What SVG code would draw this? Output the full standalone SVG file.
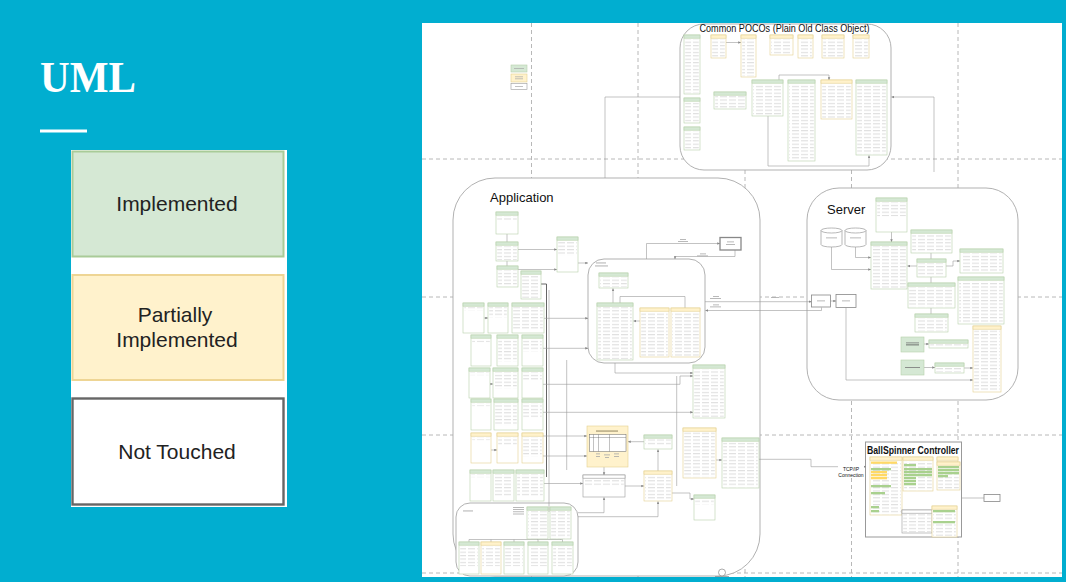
<svg xmlns="http://www.w3.org/2000/svg" width="1066" height="582" viewBox="0 0 1066 582">
<style>
.ct{fill:#fff;stroke:#a8a8a8;stroke-width:.9}
.bx{fill:#fff;stroke-width:.6}
.hd{stroke-width:.6}
.G .bx,.G .hd{stroke:#b7d1aa}.G .hd{fill:#d5e8d4}
.Y .bx,.Y .hd{stroke:#e4d08f}.Y .hd{fill:#fff2cc}
.W .bx,.W .hd{stroke:#9a9a9a}.W .hd{fill:#fff}
.tx{fill:url(#rows)}
.c{fill:none;stroke:#9a9a9a;stroke-width:.6}
.ca{marker-end:url(#ar)}
.dk{fill:none;stroke:#555;stroke-width:.9}
.gd{fill:none;stroke:#b8b8b8;stroke-width:1;stroke-dasharray:4 3}
.bar{fill:#a8a8a8}
.hg{fill:#a9d18e}.hy{fill:#ffd966}
.t{font-family:"Liberation Sans",Arial,Helvetica,sans-serif;fill:#111}
.lg{font-family:"Liberation Sans",Arial,Helvetica,sans-serif;font-size:21px;fill:#222;text-anchor:middle}
</style>
<defs>
<pattern id="rows" width="9" height="3.4" patternUnits="userSpaceOnUse"><rect y="1.1" width="7" height="0.8" fill="#d4d4d4"/></pattern>
<marker id="ar" viewBox="0 0 6 6" refX="5.5" refY="3" markerWidth="3" markerHeight="3" markerUnits="userSpaceOnUse" orient="auto"><path d="M0,0.5 L6,3 L0,5.5 z" fill="#888"/></marker>
</defs>

<rect x="0" y="0" width="1066" height="582" fill="#01aed0"/>
<g id="title"><text x="40" y="92" font-family="'Liberation Serif','Times New Roman',serif" font-weight="bold" font-size="45" fill="#fff" textLength="96" lengthAdjust="spacingAndGlyphs">UML</text>
<rect x="40" y="129.5" width="47" height="3" fill="#fff"/></g>

<g id="legend">
<rect x="71" y="150" width="216" height="357" fill="#fff"/>
<g id="leg-impl"><rect x="72.5" y="151.5" width="211" height="105" fill="#d5e8d4" stroke="#a9cb98" stroke-width="2"/><text class="lg" x="177" y="211">Implemented</text></g>
<g id="leg-part"><rect x="72.5" y="275" width="211" height="105" fill="#fff2cc" stroke="#eed594" stroke-width="2"/><text class="lg" x="175" y="322">Partially</text><text class="lg" x="177" y="347">Implemented</text></g>
<g id="leg-none"><rect x="72.5" y="398.5" width="211" height="106" fill="#fff" stroke="#666" stroke-width="2.4"/><text class="lg" x="177" y="459">Not Touched</text></g>
</g>

<rect id="panel" x="422" y="23" width="640" height="554" fill="#fff"/>
<g id="grid">
<path class="gd" d="M422,159H1062M422,297H1062M422,435H1062M422,573H1062M531.5,23V577M638,23V577M745,23V577M851.5,23V577M958,23V577"/>
</g>

<g id="containers">
<rect id="poco" class="ct" x="680" y="24" width="211" height="146" rx="24"/>
<rect id="application" class="ct" x="453" y="178" width="307" height="398" rx="42"/>
<rect id="server" class="ct" x="807" y="188" width="211" height="212" rx="32"/>
<rect id="clientdb" class="ct" x="588" y="259" width="117" height="104" rx="16"/>
<rect id="helpers" class="ct" x="456" y="503" width="122" height="73" rx="14"/>
<rect id="ballspinner" x="865.5" y="442" width="96" height="95" fill="#fff" stroke="#999" stroke-width="1"/>
<text class="t" x="699.5" y="32" font-size="11.5" textLength="170" lengthAdjust="spacingAndGlyphs">Common POCOs (Plain Old Class Object)</text>
<text class="t" x="490" y="201.5" font-size="13">Application</text>
<text class="t" x="827" y="213.5" font-size="13">Server</text>
<text class="t" x="867" y="454" font-size="11.5" font-weight="bold" textLength="92" lengthAdjust="spacingAndGlyphs">BallSpinner Controller</text>
</g>

<g id="connectors">
<path class="c ca" d="M726,42.5H741"/>
<path class="c ca" d="M779,80V75H829V80"/>
<path class="c ca" d="M768,116V166H869V155.5"/>
<path class="c" d="M605,178V97H680"/>
<path class="c ca" d="M934,172V97H891.5"/>
<path class="c" d="M507,234V242M507,261V266"/>
<path class="c ca" d="M518,249.5H557"/>
<path class="c ca" d="M518,269.5H557"/>
<path class="c ca" d="M578,263H588"/>
<path class="c ca" d="M646.5,259V243.5H720"/>
<path class="c ca" d="M735,250V256.5H675V259"/>
<path class="c ca" d="M613,303V288.5"/>
<path class="c" d="M620,303V296.5H685V308"/>
<path class="c ca" d="M640,321H633.5"/>
<path class="c ca" d="M705,301.7H811.5"/>
<path class="c ca" d="M821.5,307.5V310.5H705.5"/>
<path class="dk" d="M541,284H546.5V477"/>
<path class="c" d="M549,290V512"/>
<path class="c ca" d="M484,318H488"/>
<path class="c ca" d="M491,384H493"/>
<path class="c ca" d="M491,450H497"/>
<path class="c ca" d="M544,318.3H588"/>
<path class="c ca" d="M543,348.3H588"/>
<path class="c ca" d="M543,384.3H680V376H693"/>
<path class="c ca" d="M543,412.3H693"/>
<path class="c ca" d="M543,436H587"/>
<path class="c ca" d="M543,456H587"/>
<path class="c ca" d="M544,483.5H583"/>
<path class="c" d="M566.7,360V470"/>
<path class="c ca" d="M615,363V373H693"/>
<path class="c" d="M676.7,376V486"/>
<path class="c ca" d="M604,467V475"/>
<path class="c ca" d="M644,441.7H628"/>
<path class="c ca" d="M658,471V449.5"/>
<path class="c ca" d="M716,460H722"/>
<path class="c ca" d="M625,486H644"/>
<path class="c ca" d="M672,493H690V499H694"/>
<path class="c ca" d="M578,512.7H604V497.5"/>
<path class="c ca" d="M578,516.7H658V501.5"/>
<path class="c" d="M469,542V539.5H562.5V542M491,539.5V542M514,539.5V542M538,539.5V542M537.5,539V539.5M560.5,539V539.5"/>
<path class="c ca" d="M759,459.3H811V466.7H866"/>
<path class="c ca" d="M891.5,232V242"/>
<path class="c ca" d="M831.5,247V269.5H871"/>
<path class="c ca" d="M855.5,247V257.5H871"/>
<path class="c ca" d="M917,266H907.5"/>
<path class="c" d="M931,253V259M931,277V283M931,308V314"/>
<path class="c ca" d="M946,266H953V261H960"/>
<path class="c ca" d="M924,344H929"/>
<path class="c ca" d="M924,367.5H935"/>
<path class="c ca" d="M964,368H973"/>
<path class="c ca" d="M846,307.5V380H973"/>
<path class="c ca" d="M830.5,301H836"/>
<path class="c" d="M961.5,498H984"/>
</g>

<g id="edge-labels">
<rect x="838" y="464" width="26" height="13" fill="#fff"/>
<text class="t" x="851" y="470.5" font-size="5" text-anchor="middle" fill="#333">TCP/IP</text>
<text class="t" x="851" y="476.5" font-size="5" text-anchor="middle" fill="#333">Connection</text>
<rect class="bar" x="680" y="239" width="6" height=".8"/><rect class="bar" x="678" y="241" width="10" height=".8"/>
<rect class="bar" x="700" y="253.5" width="6" height=".8"/><rect class="bar" x="697" y="255.5" width="11" height=".8"/>
<rect class="bar" x="713" y="296" width="6" height=".8"/><rect class="bar" x="710" y="298" width="11" height=".8"/>
<rect class="bar" x="713" y="304.5" width="6" height=".8"/><rect class="bar" x="710" y="306.5" width="11" height=".8"/>
<rect class="bar" x="771" y="297" width="8" height=".8"/>
<rect class="bar" x="596" y="262.5" width="10" height=".9"/><rect class="bar" x="595" y="265.5" width="13" height=".9"/>
</g>

<g id="legend-thumb">
<rect x="511" y="65" width="16" height="7" fill="#d5e8d4" stroke="#b7d1aa" stroke-width=".6"/>
<rect x="511" y="74" width="16" height="8" fill="#fff2cc" stroke="#e4d08f" stroke-width=".6"/>
<rect x="511" y="83.5" width="16" height="6" fill="#fff" stroke="#999" stroke-width=".6"/>
<rect class="bar" x="514" y="68" width="10" height=".7"/><rect class="bar" x="515" y="76.5" width="8" height=".7"/><rect class="bar" x="515" y="78.5" width="8" height=".7"/><rect class="bar" x="515" y="86.3" width="8" height=".7"/>
</g>

<g id="p1" class="G"><rect class="bx" x="684" y="35" width="16" height="59"/><rect class="hd" x="684" y="35" width="16" height="3.2"/><rect class="tx" x="685.2" y="39.2" width="13.6" height="54"/></g>
<g id="p2" class="Y"><rect class="bx" x="711" y="35" width="15" height="23"/><rect class="hd" x="711" y="35" width="15" height="3.2"/><rect class="tx" x="712.2" y="39.2" width="12.6" height="18"/></g>
<g id="p3" class="Y"><rect class="bx" x="741" y="35" width="15" height="42"/><rect class="hd" x="741" y="35" width="15" height="3.2"/><rect class="tx" x="742.2" y="39.2" width="12.6" height="37"/></g>
<g id="p4" class="Y"><rect class="bx" x="770" y="35" width="23" height="20"/><rect class="hd" x="770" y="35" width="23" height="3.2"/><rect class="tx" x="771.2" y="39.2" width="20.6" height="15"/></g>
<g id="p5" class="Y"><rect class="bx" x="798" y="35" width="15" height="23"/><rect class="hd" x="798" y="35" width="15" height="3.2"/><rect class="tx" x="799.2" y="39.2" width="12.6" height="18"/></g>
<g id="p6" class="Y"><rect class="bx" x="822" y="35" width="22" height="23"/><rect class="hd" x="822" y="35" width="22" height="3.2"/><rect class="tx" x="823.2" y="39.2" width="19.6" height="18"/></g>
<g id="p7" class="Y"><rect class="bx" x="853" y="35" width="16" height="23"/><rect class="hd" x="853" y="35" width="16" height="3.2"/><rect class="tx" x="854.2" y="39.2" width="13.6" height="18"/></g>
<g id="p8" class="G"><rect class="bx" x="684" y="98" width="16" height="25"/><rect class="hd" x="684" y="98" width="16" height="3.2"/><rect class="tx" x="685.2" y="102.2" width="13.6" height="20"/></g>
<g id="p9" class="G"><rect class="bx" x="684" y="127" width="16" height="23"/><rect class="hd" x="684" y="127" width="16" height="3.2"/><rect class="tx" x="685.2" y="131.2" width="13.6" height="18"/></g>
<g id="p10" class="G"><rect class="bx" x="714" y="92" width="32" height="17"/><rect class="hd" x="714" y="92" width="32" height="3.2"/><rect class="tx" x="715.2" y="96.2" width="29.6" height="12"/></g>
<g id="p11" class="G"><rect class="bx" x="752" y="80" width="31" height="36"/><rect class="hd" x="752" y="80" width="31" height="3.2"/><rect class="tx" x="753.2" y="84.2" width="28.6" height="31"/></g>
<g id="p12" class="G"><rect class="bx" x="788" y="80" width="27" height="81"/><rect class="hd" x="788" y="80" width="27" height="3.2"/><rect class="tx" x="789.2" y="84.2" width="24.6" height="76"/></g>
<g id="p13" class="Y"><rect class="bx" x="821" y="80" width="31" height="39"/><rect class="hd" x="821" y="80" width="31" height="3.2"/><rect class="tx" x="822.2" y="84.2" width="28.6" height="34"/></g>
<g id="p14" class="G"><rect class="bx" x="856" y="80" width="31" height="75"/><rect class="hd" x="856" y="80" width="31" height="3.2"/><rect class="tx" x="857.2" y="84.2" width="28.6" height="70"/></g>

<g id="a1" class="G"><rect class="bx" x="496" y="212" width="22" height="22"/><rect class="hd" x="496" y="212" width="22" height="3.2"/><rect class="tx" x="497.2" y="216.2" width="19.6" height="4"/></g>
<g id="a2" class="G"><rect class="bx" x="496" y="242" width="22" height="19"/><rect class="hd" x="496" y="242" width="22" height="3.2"/><rect class="tx" x="497.2" y="246.2" width="19.6" height="14"/></g>
<g id="a3" class="G"><rect class="bx" x="497" y="266" width="21" height="21"/><rect class="hd" x="497" y="266" width="21" height="3.2"/><rect class="tx" x="498.2" y="270.2" width="18.6" height="16"/></g>
<g id="a4" class="G"><rect class="bx" x="557" y="237" width="21" height="35"/><rect class="hd" x="557" y="237" width="21" height="3.2"/><rect class="tx" x="558.2" y="241.2" width="18.6" height="14"/></g>
<g id="a5" class="G"><rect class="bx" x="521" y="271" width="20" height="28"/><rect class="hd" x="521" y="271" width="20" height="3.2"/><rect class="tx" x="522.2" y="275.2" width="17.6" height="23"/></g>

<g id="r11" class="G"><rect class="bx" x="463" y="303" width="21" height="30"/><rect class="hd" x="463" y="303" width="21" height="3.2"/><rect class="tx" x="464.2" y="307.2" width="18.6" height="3"/></g>
<g id="r12" class="G"><rect class="bx" x="488" y="303" width="20" height="30"/><rect class="hd" x="488" y="303" width="20" height="3.2"/><rect class="tx" x="489.2" y="307.2" width="17.6" height="10"/></g>
<g id="r13" class="G"><rect class="bx" x="512" y="303" width="32" height="30"/><rect class="hd" x="512" y="303" width="32" height="3.2"/><rect class="tx" x="513.2" y="307.2" width="29.6" height="22"/></g>
<g id="r21" class="G"><rect class="bx" x="471" y="335" width="20" height="31"/><rect class="hd" x="471" y="335" width="20" height="3.2"/><rect class="tx" x="472.2" y="339.2" width="17.6" height="3"/></g>
<g id="r22" class="G"><rect class="bx" x="497" y="335" width="21" height="31"/><rect class="hd" x="497" y="335" width="21" height="3.2"/><rect class="tx" x="498.2" y="339.2" width="18.6" height="22"/></g>
<g id="r23" class="G"><rect class="bx" x="522" y="335" width="21" height="31"/><rect class="hd" x="522" y="335" width="21" height="3.2"/><rect class="tx" x="523.2" y="339.2" width="18.6" height="12"/></g>
<g id="r31" class="G"><rect class="bx" x="469" y="368" width="21" height="30"/><rect class="hd" x="469" y="368" width="21" height="3.2"/><rect class="tx" x="470.2" y="372.2" width="18.6" height="3"/></g>
<g id="r32" class="G"><rect class="bx" x="493" y="368" width="25" height="30"/><rect class="hd" x="493" y="368" width="25" height="3.2"/><rect class="tx" x="494.2" y="372.2" width="22.6" height="16"/></g>
<g id="r33" class="G"><rect class="bx" x="522" y="368" width="21" height="30"/><rect class="hd" x="522" y="368" width="21" height="3.2"/><rect class="tx" x="523.2" y="372.2" width="18.6" height="8"/></g>
<g id="r41" class="G"><rect class="bx" x="471" y="399" width="20" height="31"/><rect class="hd" x="471" y="399" width="20" height="3.2"/><rect class="tx" x="472.2" y="403.2" width="17.6" height="3"/></g>
<g id="r42" class="G"><rect class="bx" x="494" y="399" width="24" height="31"/><rect class="hd" x="494" y="399" width="24" height="3.2"/><rect class="tx" x="495.2" y="403.2" width="21.6" height="22"/></g>
<g id="r43" class="G"><rect class="bx" x="522" y="399" width="21" height="31"/><rect class="hd" x="522" y="399" width="21" height="3.2"/><rect class="tx" x="523.2" y="403.2" width="18.6" height="14"/></g>
<g id="r51" class="Y"><rect class="bx" x="471" y="433" width="20" height="30"/><rect class="hd" x="471" y="433" width="20" height="3.2"/><rect class="tx" x="472.2" y="437.2" width="17.6" height="3"/></g>
<g id="r52" class="Y"><rect class="bx" x="497" y="433" width="21" height="30"/><rect class="hd" x="497" y="433" width="21" height="3.2"/><rect class="tx" x="498.2" y="437.2" width="18.6" height="8"/></g>
<g id="r53" class="Y"><rect class="bx" x="522" y="433" width="21" height="30"/><rect class="hd" x="522" y="433" width="21" height="3.2"/><rect class="tx" x="523.2" y="437.2" width="18.6" height="19"/></g>
<g id="r61" class="G"><rect class="bx" x="470" y="470" width="21" height="31"/><rect class="hd" x="470" y="470" width="21" height="3.2"/><rect class="tx" x="471.2" y="474.2" width="18.6" height="3"/></g>
<g id="r62" class="G"><rect class="bx" x="493" y="470" width="21" height="31"/><rect class="hd" x="493" y="470" width="21" height="3.2"/><rect class="tx" x="494.2" y="474.2" width="18.6" height="22"/></g>
<g id="r63" class="G"><rect class="bx" x="516" y="470" width="28" height="31"/><rect class="hd" x="516" y="470" width="28" height="3.2"/><rect class="tx" x="517.2" y="474.2" width="25.6" height="22"/></g>

<g id="c1" class="G"><rect class="bx" x="599" y="273" width="29" height="15"/><rect class="hd" x="599" y="273" width="29" height="3.2"/><rect class="tx" x="600.2" y="277.2" width="26.6" height="10"/></g>
<g id="c2" class="G"><rect class="bx" x="597" y="303" width="36" height="57"/><rect class="hd" x="597" y="303" width="36" height="3.2"/><rect class="tx" x="598.2" y="307.2" width="33.6" height="52"/></g>
<g id="c3" class="Y"><rect class="bx" x="640" y="308" width="29" height="49"/><rect class="hd" x="640" y="308" width="29" height="3.2"/><rect class="tx" x="641.2" y="312.2" width="26.6" height="44"/></g>
<g id="c4" class="Y"><rect class="bx" x="671" y="308" width="29" height="49"/><rect class="hd" x="671" y="308" width="29" height="3.2"/><rect class="tx" x="672.2" y="312.2" width="26.6" height="44"/></g>
<g id="userout"><rect x="720" y="237.5" width="21" height="12.5" fill="#fff" stroke="#888" stroke-width="1.3"/><rect class="bar" x="727" y="241.5" width="7" height=".8"/><rect class="bar" x="726" y="244" width="9" height=".8"/></g>

<g id="m1" class="G"><rect class="bx" x="693" y="365" width="32" height="53"/><rect class="hd" x="693" y="365" width="32" height="3.2"/><rect class="tx" x="694.2" y="369.2" width="29.6" height="48"/></g>
<g id="logs"><rect x="587" y="426" width="41" height="41" fill="#fff2cc" stroke="#e4d08f" stroke-width=".6"/><rect x="596" y="430.5" width="22" height="1.1" fill="#9c8f6a"/><rect x="589.5" y="434.5" width="36.5" height="17" fill="#fff" stroke="#666" stroke-width=".5"/><path d="M589.5,437.5H626M593.5,434.5V451.5M598.5,434.5V451.5M609.5,434.5V451.5" fill="none" stroke="#666" stroke-width=".4"/><rect class="bar" x="596" y="453.5" width="4" height=".8"/><rect class="bar" x="596" y="456" width="4" height=".8"/><rect class="bar" x="604" y="454.5" width="6" height=".8"/><rect class="bar" x="605" y="457" width="4" height=".8"/><rect class="bar" x="614" y="453.5" width="5" height=".8"/><rect class="bar" x="614" y="456" width="5" height=".8"/></g>
<g id="m2" class="W"><rect class="bx" x="583" y="475" width="42" height="22"/><rect class="hd" x="583" y="475" width="42" height="3.2"/><rect class="tx" x="584.2" y="479.2" width="39.6" height="6"/></g>
<g id="m3" class="G"><rect class="bx" x="644" y="435" width="28" height="14"/><rect class="hd" x="644" y="435" width="28" height="3.2"/><rect class="tx" x="645.2" y="439.2" width="25.6" height="6"/></g>
<g id="m4" class="Y"><rect class="bx" x="644" y="471" width="28" height="30"/><rect class="hd" x="644" y="471" width="28" height="3.2"/><rect class="tx" x="645.2" y="475.2" width="25.6" height="25"/></g>
<g id="m5" class="Y"><rect class="bx" x="683" y="428" width="33" height="50"/><rect class="hd" x="683" y="428" width="33" height="3.2"/><rect class="tx" x="684.2" y="432.2" width="30.6" height="45"/></g>
<g id="m6" class="G"><rect class="bx" x="722" y="438" width="37" height="50"/><rect class="hd" x="722" y="438" width="37" height="3.2"/><rect class="tx" x="723.2" y="442.2" width="34.6" height="45"/></g>
<g id="m7" class="G"><rect class="bx" x="694" y="495" width="21" height="25"/><rect class="hd" x="694" y="495" width="21" height="3.2"/><rect class="tx" x="695.2" y="499.2" width="18.6" height="5"/></g>

<g id="helper-labels"><rect class="bar" x="463" y="510.5" width="10" height=".9"/><rect class="bar" x="513" y="507" width="11" height=".8"/><rect class="bar" x="513" y="509.2" width="11" height=".8"/><rect class="bar" x="513" y="511.4" width="11" height=".8"/><rect class="bar" x="513" y="513.6" width="11" height=".8"/></g>
<g id="h1" class="G"><rect class="bx" x="527" y="507" width="21" height="32"/><rect class="hd" x="527" y="507" width="21" height="3.2"/><rect class="tx" x="528.2" y="511.2" width="18.6" height="27"/></g>
<g id="h2" class="G"><rect class="bx" x="550" y="507" width="21" height="32"/><rect class="hd" x="550" y="507" width="21" height="3.2"/><rect class="tx" x="551.2" y="511.2" width="18.6" height="27"/></g>
<g id="h3" class="G"><rect class="bx" x="459" y="542" width="20" height="32"/><rect class="hd" x="459" y="542" width="20" height="3.2"/><rect class="tx" x="460.2" y="546.2" width="17.6" height="20"/></g>
<g id="h4" class="Y"><rect class="bx" x="481" y="542" width="20" height="32"/><rect class="hd" x="481" y="542" width="20" height="3.2"/><rect class="tx" x="482.2" y="546.2" width="17.6" height="20"/></g>
<g id="h5" class="G"><rect class="bx" x="504" y="542" width="20" height="32"/><rect class="hd" x="504" y="542" width="20" height="3.2"/><rect class="tx" x="505.2" y="546.2" width="17.6" height="20"/></g>
<g id="h6" class="G"><rect class="bx" x="528" y="542" width="20" height="32"/><rect class="hd" x="528" y="542" width="20" height="3.2"/><rect class="tx" x="529.2" y="546.2" width="17.6" height="20"/></g>
<g id="h7" class="G"><rect class="bx" x="552" y="542" width="21" height="32"/><rect class="hd" x="552" y="542" width="21" height="3.2"/><rect class="tx" x="553.2" y="546.2" width="18.6" height="20"/></g>
<g id="pagemark"><circle cx="722" cy="572.5" r="3.5" fill="#fff" stroke="#888" stroke-width=".7"/><path d="M715,576.5H729" stroke="#888" stroke-width=".7"/></g>

<g id="cyl1"><path d="M821,230.5A10.5,2.5 0 0 1 842,230.5V244.5A10.5,2.5 0 0 1 821,244.5Z" fill="#fff" stroke="#999" stroke-width=".7"/><path d="M821,230.5A10.5,2.5 0 0 0 842,230.5" fill="none" stroke="#999" stroke-width=".7"/><rect class="bar" x="826" y="237.5" width="11" height=".8"/></g>
<g id="cyl2"><path d="M845,230.5A10.5,2.5 0 0 1 866,230.5V244.5A10.5,2.5 0 0 1 845,244.5Z" fill="#fff" stroke="#999" stroke-width=".7"/><path d="M845,230.5A10.5,2.5 0 0 0 866,230.5" fill="none" stroke="#999" stroke-width=".7"/><rect class="bar" x="850" y="237.5" width="11" height=".8"/></g>
<g id="s1" class="G"><rect class="bx" x="876" y="198" width="31" height="34"/><rect class="hd" x="876" y="198" width="31" height="3.2"/><rect class="tx" x="877.2" y="202.2" width="28.6" height="14"/></g>
<g id="s2" class="G"><rect class="bx" x="871" y="242" width="36" height="47"/><rect class="hd" x="871" y="242" width="36" height="3.2"/><rect class="tx" x="872.2" y="246.2" width="33.6" height="42"/></g>
<g id="s3" class="G"><rect class="bx" x="911" y="230" width="41" height="23"/><rect class="hd" x="911" y="230" width="41" height="3.2"/><rect class="tx" x="912.2" y="234.2" width="38.6" height="18"/></g>
<g id="s4" class="G"><rect class="bx" x="917" y="259" width="29" height="18"/><rect class="hd" x="917" y="259" width="29" height="3.2"/><rect class="tx" x="918.2" y="263.2" width="26.6" height="13"/></g>
<g id="s5" class="G"><rect class="bx" x="960" y="249" width="43" height="24"/><rect class="hd" x="960" y="249" width="43" height="3.2"/><rect class="tx" x="961.2" y="253.2" width="40.6" height="19"/></g>
<g id="s6" class="G"><rect class="bx" x="958" y="277" width="46" height="47"/><rect class="hd" x="958" y="277" width="46" height="3.2"/><rect class="tx" x="959.2" y="281.2" width="43.6" height="42"/></g>
<g id="s7" class="G"><rect class="bx" x="908" y="283" width="47" height="25"/><rect class="hd" x="908" y="283" width="47" height="3.2"/><rect class="tx" x="909.2" y="287.2" width="44.6" height="20"/></g>
<g id="s8" class="G"><rect class="bx" x="915" y="314" width="33" height="18"/><rect class="hd" x="915" y="314" width="33" height="3.2"/><rect class="tx" x="916.2" y="318.2" width="30.6" height="13"/></g>
<g id="s9"><rect x="901" y="337" width="23" height="15" fill="#d5e8d4" stroke="#b7d1aa" stroke-width=".6"/><rect x="906" y="342.5" width="13" height=".8" fill="#777"/><rect x="906" y="344.5" width="13" height=".8" fill="#555"/></g>
<g id="s10" class="G"><rect class="bx" x="929" y="340" width="39" height="8"/><rect class="hd" x="929" y="340" width="39" height="3.2"/><rect class="tx" x="930.2" y="344.2" width="36.6" height="3"/></g>
<g id="s11"><rect x="901" y="360" width="23" height="15" fill="#d5e8d4" stroke="#b7d1aa" stroke-width=".6"/><rect x="905" y="367" width="15" height=".8" fill="#777"/></g>
<g id="s12" class="G"><rect class="bx" x="935" y="363" width="29" height="10"/><rect class="hd" x="935" y="363" width="29" height="3.2"/><rect class="tx" x="936.2" y="367.2" width="26.6" height="5"/></g>
<g id="s13" class="Y"><rect class="bx" x="973" y="326" width="28" height="66"/><rect class="hd" x="973" y="326" width="28" height="3.2"/><rect class="tx" x="974.2" y="330.2" width="25.6" height="61"/></g>
<g id="sbox1"><rect x="811.5" y="295" width="19" height="12" fill="#fff" stroke="#888" stroke-width=".8"/><rect class="bar" x="817" y="300.5" width="8" height=".8"/></g>
<g id="sbox2"><rect x="836" y="294.5" width="20" height="13" fill="#fff" stroke="#888" stroke-width=".8"/><rect class="bar" x="842" y="300.5" width="8" height=".8"/></g>

<g id="b1" class="Y"><rect class="bx" x="870" y="457" width="32" height="58"/><rect class="hd" x="870" y="457" width="32" height="3.2"/><rect class="tx" x="871.2" y="461.2" width="29.6" height="53"/>
<rect class="hy" x="871" y="461.5" width="26" height="2.3"/><rect class="hg" x="871" y="468" width="20" height="2.3"/><rect class="hy" x="871" y="471" width="16" height="2.3"/><rect class="hy" x="871" y="474" width="16" height="2.3"/><rect class="hy" x="871" y="477" width="16" height="2.3"/><rect class="hg" x="871" y="485" width="20" height="2.3"/><rect class="hg" x="871" y="492" width="14" height="2.3"/><rect class="hg" x="871" y="506" width="8" height="2.3"/><rect class="hg" x="871" y="510" width="8" height="2.3"/></g>
<g id="b2" class="Y"><rect class="bx" x="903" y="457" width="30" height="34"/><rect class="hd" x="903" y="457" width="30" height="3.2"/><rect class="tx" x="904.2" y="461.2" width="27.6" height="29"/>
<rect class="hg" x="904" y="464" width="12" height="2.3"/><rect class="hg" x="904" y="468" width="28" height="2.3"/><rect class="hg" x="904" y="471" width="28" height="2.3"/><rect class="hg" x="904" y="474" width="28" height="2.3"/><rect class="hg" x="904" y="477" width="12" height="2.3"/><rect class="hg" x="904" y="480" width="12" height="2.3"/><rect class="hg" x="904" y="483" width="12" height="2.3"/></g>
<g id="b3" class="Y"><rect class="bx" x="937" y="457" width="21" height="5"/><rect class="hd" x="937" y="457" width="21" height="3.2"/></g>
<g id="b4" class="Y"><rect class="bx" x="937" y="462" width="23" height="28"/><rect class="hd" x="937" y="462" width="23" height="3.2"/><rect class="tx" x="938.2" y="466.2" width="20.6" height="23"/>
<rect class="hg" x="938" y="466" width="21" height="2.3"/><rect class="hg" x="938" y="469" width="21" height="2.3"/><rect class="hg" x="938" y="472" width="21" height="2.3"/><rect class="hg" x="938" y="475" width="10" height="2.3"/></g>
<g id="b5" class="W"><rect class="bx" x="902" y="510" width="30" height="23"/><rect class="hd" x="902" y="510" width="30" height="3.2"/><rect class="tx" x="903.2" y="514.2" width="27.6" height="18"/></g>
<g id="b6" class="Y"><rect class="bx" x="932" y="506" width="25" height="31"/><rect class="hd" x="932" y="506" width="25" height="3.2"/><rect class="tx" x="933.2" y="510.2" width="22.6" height="26"/>
<rect class="hg" x="933" y="510" width="22" height="2.3"/><rect class="hg" x="933" y="521" width="22" height="2.3"/></g>
<g id="ext-box"><rect x="984" y="494.5" width="16" height="7" fill="#fff" stroke="#888" stroke-width=".8"/></g>
</svg>
